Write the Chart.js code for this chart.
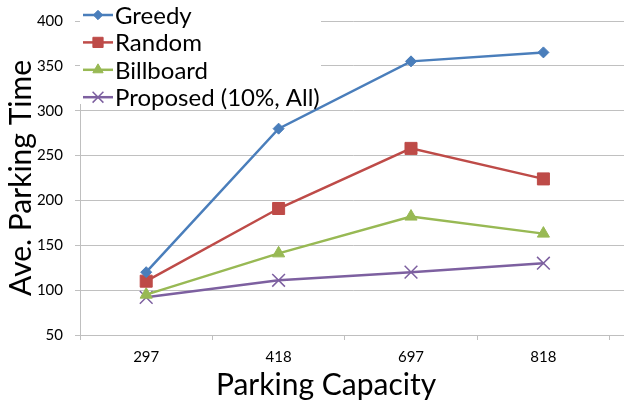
<!DOCTYPE html>
<html>
<head>
<meta charset="utf-8">
<script src="https://cdn.jsdelivr.net/npm/chart.js@4/dist/chart.umd.min.js"></script>
<style>
  html, body { margin: 0; padding: 0; background: #fff; overflow: hidden; }
  #wrap { width: 624px; height: 405px; position: relative; overflow: hidden; }
</style>
</head>
<body>
<div id="wrap"><canvas id="c" width="636" height="405"></canvas></div>
<script>
const categories = ['297', '418', '697', '818'];
const seriesNames = ['Greedy', 'Random', 'Billboard', 'Proposed (10%, All)'];
const greedy = [120, 280, 355, 365];
const random = [110, 191, 258, 224];
const billboard = [95, 141, 182, 163];
const proposed = [92, 111, 120, 130];
const yTicks = [50, 100, 150, 200, 250, 300, 350, 400];
const xTitle = 'Parking Capacity';
const yTitle = 'Ave. Parking Time';

const FONT = 'Lato, "Open Sans", sans-serif';
const colors = ['#4a7ebb', '#be4b48', '#98b954', '#7d60a0'];
const markers = ['rectRot', 'rect', 'triangle', 'crossRot'];
const radii = [5.5, 8.5, 7, 9];

function toPoints(arr) { return arr.map((v, i) => ({ x: i, y: v })); }
const seriesData = [greedy, random, billboard, proposed];

const legendPlugin = {
  id: 'boxLegend',
  afterDatasetsDraw(chart) {
    const ctx = chart.ctx;
    const a = chart.chartArea;
    ctx.save();
    ctx.fillStyle = '#ffffff';
    ctx.fillRect(a.left, 0, 241, 104);
    chart.data.datasets.forEach((ds, i) => {
      const y = 15 + i * 27.4;
      const x0 = a.left + 3, x1 = a.left + 33;
      ctx.strokeStyle = ds.borderColor;
      ctx.lineWidth = 2.5;
      ctx.beginPath(); ctx.moveTo(x0, y); ctx.lineTo(x1, y); ctx.stroke();
      ctx.fillStyle = ds.pointBackgroundColor;
      ctx.strokeStyle = ds.pointBorderColor;
      ctx.lineWidth = ds.pointBorderWidth;
      Chart.helpers.drawPoint(ctx, {
        pointStyle: ds.pointStyle, radius: ds.pointRadius * 0.85, rotation: 0,
        borderWidth: ds.pointBorderWidth
      }, (x0 + x1) / 2, y);
      ctx.fillStyle = '#000';
      ctx.font = '24px ' + FONT;
      ctx.textBaseline = 'middle';
      ctx.textAlign = 'left';
      ctx.fillText(ds.label, x1 + 2, y + 1);
    });
    ctx.restore();
  }
};

const xTitlePlugin = {
  id: 'xTitle',
  afterDraw(chart) {
    const ctx = chart.ctx;
    ctx.save();
    ctx.fillStyle = '#000';
    ctx.font = '30px ' + FONT;
    ctx.textAlign = 'center';
    ctx.textBaseline = 'middle';
    ctx.fillText(xTitle, 326, 385);
    ctx.restore();
  }
};

const bgPlugin = {
  id: 'bg',
  beforeDraw(chart) {
    const ctx = chart.ctx;
    ctx.save(); ctx.fillStyle = '#fff'; ctx.fillRect(0, 0, chart.width, chart.height); ctx.restore();
  }
};

new Chart(document.getElementById('c'), {
  type: 'line',
  data: {
    datasets: seriesNames.map((name, i) => ({
      label: name,
      data: toPoints(seriesData[i]),
      borderColor: colors[i],
      backgroundColor: colors[i],
      pointBackgroundColor: colors[i],
      pointBorderColor: colors[i],
      pointStyle: markers[i],
      pointRadius: radii[i],
      pointBorderWidth: markers[i] === 'crossRot' ? 1.5 : 1,
      borderWidth: 2.5,
      tension: 0,
      fill: false
    }))
  },
  options: {
    responsive: false,
    animation: false,
    devicePixelRatio: 1,
    layout: { padding: { top: 20, right: 0, bottom: 0, left: 0 } },
    plugins: { legend: { display: false }, tooltip: { enabled: false } },
    scales: {
      x: {
        type: 'linear',
        min: -0.5,
        max: 3.62,
        afterBuildTicks(scale) { scale.ticks = categories.map((c, i) => ({ value: i })); },
        afterFit(scale) { scale.height = 70; },
        ticks: {
          callback: (v) => categories[v],
          font: { family: FONT, size: 15 },
          color: '#000',
          padding: 8,
          maxRotation: 0,
          autoSkip: false
        },
        grid: { offset: true, drawOnChartArea: false, drawTicks: true, tickLength: 5, color: '#bfbfbf' },
        border: { display: true, color: '#bfbfbf' },
        title: { display: false }
      },
      y: {
        min: 50, max: 400,
        afterBuildTicks(scale) { scale.ticks = yTicks.map(v => ({ value: v })); },
        afterFit(scale) { scale.width = 80; },
        ticks: { font: { family: FONT, size: 15 }, color: '#000', padding: 12 },
        grid: { color: '#c0c0c0', tickLength: 5, drawTicks: true },
        border: { display: true, color: '#bfbfbf' },
        title: {
          display: true, text: yTitle,
          font: { family: FONT, size: 30 }, color: '#000',
          padding: { top: 3, bottom: 0 }
        }
      }
    }
  },
  plugins: [bgPlugin, legendPlugin, xTitlePlugin]
});
</script>
</body>
</html>
